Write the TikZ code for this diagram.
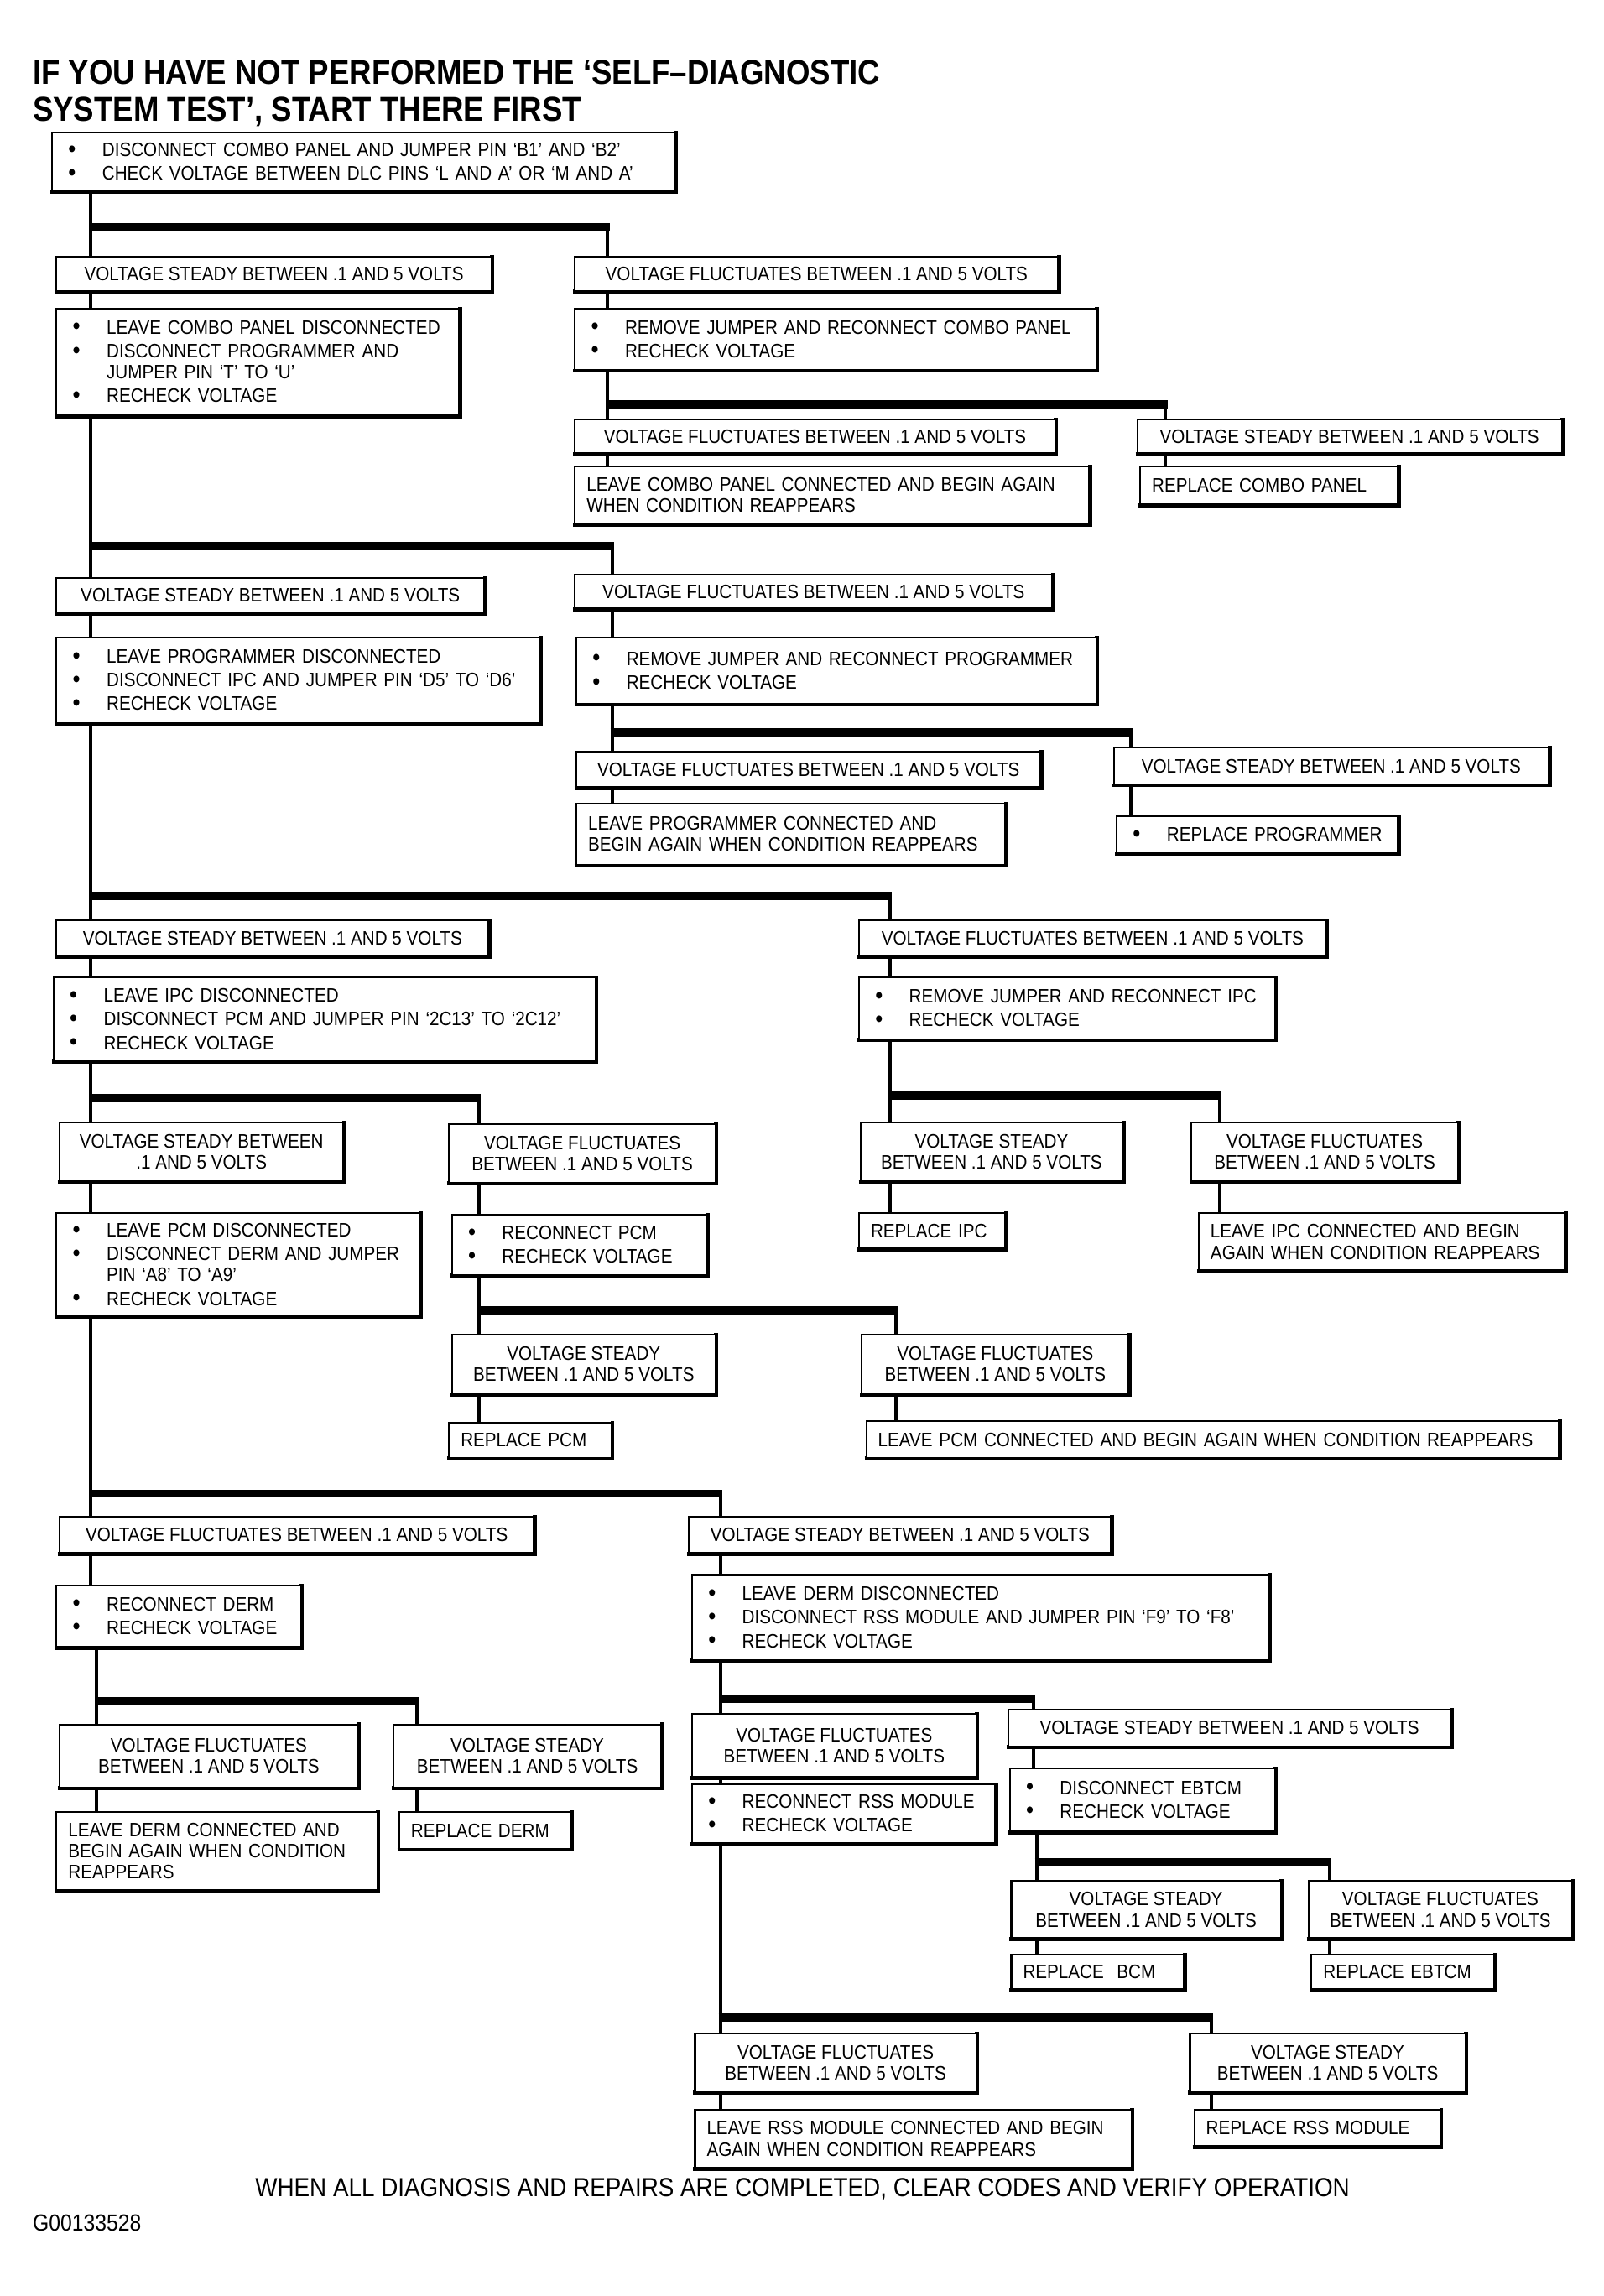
\documentclass[tikz,border=0pt]{standalone}
\usepackage{fontspec}
\newfontfamily\flowfont[FakeStretch=0.89]{Liberation Sans}
\usetikzlibrary{calc,positioning}
\newcommand\pxu{0.01745cm}
\newcommand\boxfont{\flowfont\fontsize{6.6pt}{7.2pt}\selectfont}
\newcommand\headfont{\flowfont\bfseries\fontsize{11.7pt}{12.4pt}\selectfont}
\newlength\bulw
\setlength\bulw{13pt}
\newcommand\itm{\makebox[\bulw][l]{\hspace{1.5pt}\raisebox{-.15pt}{\scalebox{1.25}{\textbullet}}}}
\newcommand\cnt{\hspace*{\bulw}}
\newcommand\nx{\\[.8pt]}
\tikzset{
	flow chart/.style={x=\pxu, y=-\pxu, font=\boxfont},
	box edge/.store in=\boxedge,
	box edge=1.4pt,
	bx/.code 2 args={
		\pgfmathsetlengthmacro{\bxw}{#1*\pxu}
		\pgfmathsetlengthmacro{\bxh}{#2*\pxu}
		\pgfmathsetlengthmacro{\bxt}{#1*\pxu-8pt}
		\pgfkeysalso{draw, line width=.6pt, fill=white, anchor=north west,
			inner xsep=4pt, inner ysep=0pt,
			minimum width=\bxw, minimum height=\bxh,
			prefix after command={\pgfextra{\let\fixname\tikzlastnode}},
			append after command={\pgfextra{\draw[line width=\boxedge]
				([xshift=-.3pt]\fixname.south west) -- (\fixname.south east) -- ([yshift=.3pt]\fixname.north east);}}}
	},
	cond/.style={align=center},
	act/.style={align=left, text width=\bxt},
	wire/.style={line width=1.15pt},
	bar/.style={line width=2.8pt, shorten <=-.6pt, shorten >=-.6pt}
}

\begin{document}
\begin{tikzpicture}[flow chart]
	\useasboundingbox (0,0) rectangle (1095,1568);
	\node[anchor=north west, inner sep=0pt, align=left, font=\headfont] (head) at (22,41)
		{IF YOU HAVE NOT PERFORMED THE ‘SELF–DIAGNOSTIC\\SYSTEM TEST’, START THERE FIRST};
	% combo panel
	\node[bx={425}{40}, act] (a1) at (35,90) {\itm DISCONNECT COMBO PANEL AND JUMPER PIN ‘B1’ AND ‘B2’\nx\itm CHECK VOLTAGE BETWEEN DLC PINS ‘L AND A’ OR ‘M AND A’};
	\node[bx={297}{23}, cond] (b1) at (38,175) {VOLTAGE STEADY BETWEEN .1 AND 5 VOLTS};
	\node[bx={330}{23}, cond] (b2) at (392,175) {VOLTAGE FLUCTUATES BETWEEN .1 AND 5 VOLTS};
	\node[bx={275}{73}, act] (c1) at (38,210) {\itm LEAVE COMBO PANEL DISCONNECTED\nx\itm DISCONNECT PROGRAMMER AND\\\cnt JUMPER PIN ‘T’ TO ‘U’\nx\itm RECHECK VOLTAGE};
	\node[bx={356}{42}, act] (c2) at (392,210) {\itm REMOVE JUMPER AND RECONNECT COMBO PANEL\nx\itm RECHECK VOLTAGE};
	\node[bx={328}{23}, cond] (d1) at (392,286) {VOLTAGE FLUCTUATES BETWEEN .1 AND 5 VOLTS};
	\node[bx={290}{23}, cond] (d2) at (776,286) {VOLTAGE STEADY BETWEEN .1 AND 5 VOLTS};
	\node[bx={351}{39}, act] (e1) at (392,318) {LEAVE COMBO PANEL CONNECTED AND BEGIN AGAIN\\WHEN CONDITION REAPPEARS};
	\node[bx={176}{26}, act] (e2) at (778,318) {REPLACE COMBO PANEL};
	% programmer
	\node[bx={292}{24}, cond] (f1) at (38,394) {VOLTAGE STEADY BETWEEN .1 AND 5 VOLTS};
	\node[bx={326}{23}, cond] (f2) at (392,392) {VOLTAGE FLUCTUATES BETWEEN .1 AND 5 VOLTS};
	\node[bx={330}{58}, act] (g1) at (38,435) {\itm LEAVE PROGRAMMER DISCONNECTED\nx\itm DISCONNECT IPC AND JUMPER PIN ‘D5’ TO ‘D6’\nx\itm RECHECK VOLTAGE};
	\node[bx={355}{45}, act] (g2) at (393,435) {\itm REMOVE JUMPER AND RECONNECT PROGRAMMER\nx\itm RECHECK VOLTAGE};
	\node[bx={317}{24}, cond] (h1) at (393,513) {VOLTAGE FLUCTUATES BETWEEN .1 AND 5 VOLTS};
	\node[bx={297}{25}, cond] (h2) at (760,510) {VOLTAGE STEADY BETWEEN .1 AND 5 VOLTS};
	\node[bx={293}{42}, act] (i1) at (393,548) {LEAVE PROGRAMMER CONNECTED AND\\BEGIN AGAIN WHEN CONDITION REAPPEARS};
	\node[bx={192}{25}, act] (i2) at (762,557) {\itm REPLACE PROGRAMMER};
	% ipc
	\node[bx={295}{24}, cond] (j1) at (38,628) {VOLTAGE STEADY BETWEEN .1 AND 5 VOLTS};
	\node[bx={319}{24}, cond] (j2) at (586,628) {VOLTAGE FLUCTUATES BETWEEN .1 AND 5 VOLTS};
	\node[bx={370}{57}, act] (k1) at (36,667) {\itm LEAVE IPC DISCONNECTED\nx\itm DISCONNECT PCM AND JUMPER PIN ‘2C13’ TO ‘2C12’\nx\itm RECHECK VOLTAGE};
	\node[bx={284}{42}, act] (k2) at (586,667) {\itm REMOVE JUMPER AND RECONNECT IPC\nx\itm RECHECK VOLTAGE};
	\node[bx={179}{40}, cond] (l1) at (587,766) {VOLTAGE STEADY\\BETWEEN .1 AND 5 VOLTS};
	\node[bx={182}{40}, cond] (l2) at (813,766) {VOLTAGE FLUCTUATES\\BETWEEN .1 AND 5 VOLTS};
	\node[bx={100}{24}, act] (m1) at (586,828) {REPLACE IPC};
	\node[bx={250}{39}, act] (m2) at (818,828) {LEAVE IPC CONNECTED AND BEGIN\\AGAIN WHEN CONDITION REAPPEARS};
	% pcm
	\node[bx={194}{40}, cond] (n1) at (40,766) {VOLTAGE STEADY BETWEEN\\.1 AND 5 VOLTS};
	\node[bx={182}{40}, cond] (n2) at (306,767) {VOLTAGE FLUCTUATES\\BETWEEN .1 AND 5 VOLTS};
	\node[bx={248}{70}, act] (o1) at (38,828) {\itm LEAVE PCM DISCONNECTED\nx\itm DISCONNECT DERM AND JUMPER\\\cnt PIN ‘A8’ TO ‘A9’\nx\itm RECHECK VOLTAGE};
	\node[bx={174}{41}, act] (o2) at (308,829) {\itm RECONNECT PCM\nx\itm RECHECK VOLTAGE};
	\node[bx={180}{40}, cond] (p1) at (308,911) {VOLTAGE STEADY\\BETWEEN .1 AND 5 VOLTS};
	\node[bx={182}{40}, cond] (p2) at (588,911) {VOLTAGE FLUCTUATES\\BETWEEN .1 AND 5 VOLTS};
	\node[bx={111}{24}, act] (q1) at (306,971) {REPLACE PCM};
	\node[bx={473}{25}, act] (q2) at (591,970) {LEAVE PCM CONNECTED AND BEGIN AGAIN WHEN CONDITION REAPPEARS};
	% derm
	\node[bx={324}{25}, cond] (r1) at (40,1035) {VOLTAGE FLUCTUATES BETWEEN .1 AND 5 VOLTS};
	\node[bx={288}{25}, cond] (r2) at (470,1035) {VOLTAGE STEADY BETWEEN .1 AND 5 VOLTS};
	\node[bx={167}{42}, act] (t1) at (38,1082) {\itm RECONNECT DERM\nx\itm RECHECK VOLTAGE};
	\node[bx={394}{58}, act] (t2) at (472,1075) {\itm LEAVE DERM DISCONNECTED\nx\itm DISCONNECT RSS MODULE AND JUMPER PIN ‘F9’ TO ‘F8’\nx\itm RECHECK VOLTAGE};
	\node[bx={204}{43}, cond] (u1) at (40,1177) {VOLTAGE FLUCTUATES\\BETWEEN .1 AND 5 VOLTS};
	\node[bx={183}{43}, cond] (u2) at (268,1177) {VOLTAGE STEADY\\BETWEEN .1 AND 5 VOLTS};
	\node[bx={219}{53}, act] (v1) at (38,1237) {LEAVE DERM CONNECTED AND\\BEGIN AGAIN WHEN CONDITION\\REAPPEARS};
	\node[bx={117}{25}, act] (v2) at (272,1237) {REPLACE DERM};
	% rss module / ebtcm
	\node[bx={194}{43}, cond] (w1) at (472,1170) {VOLTAGE FLUCTUATES\\BETWEEN .1 AND 5 VOLTS};
	\node[bx={302}{25}, cond] (w2) at (688,1167) {VOLTAGE STEADY BETWEEN .1 AND 5 VOLTS};
	\node[bx={207}{40}, act] (x1) at (472,1218) {\itm RECONNECT RSS MODULE\nx\itm RECHECK VOLTAGE};
	\node[bx={181}{43}, act] (x2) at (689,1207) {\itm DISCONNECT EBTCM\nx\itm RECHECK VOLTAGE};
	\node[bx={184}{39}, cond] (y1) at (690,1284) {VOLTAGE STEADY\\BETWEEN .1 AND 5 VOLTS};
	\node[bx={180}{39}, cond] (y2) at (893,1284) {VOLTAGE FLUCTUATES\\BETWEEN .1 AND 5 VOLTS};
	\node[bx={118}{24}, act] (z1) at (690,1334) {REPLACE\ \ BCM};
	\node[bx={125}{24}, act] (z2) at (895,1334) {REPLACE EBTCM};
	\node[bx={192}{40}, cond] (ra1) at (474,1388) {VOLTAGE FLUCTUATES\\BETWEEN .1 AND 5 VOLTS};
	\node[bx={188}{40}, cond] (ra2) at (812,1388) {VOLTAGE STEADY\\BETWEEN .1 AND 5 VOLTS};
	\node[bx={298}{40}, act] (rb1) at (474,1440) {LEAVE RSS MODULE CONNECTED AND BEGIN\\AGAIN WHEN CONDITION REAPPEARS};
	\node[bx={168}{25}, act] (rb2) at (815,1440) {REPLACE RSS MODULE};
	\node[font=\flowfont\fontsize{8.9pt}{10pt}\selectfont] (foot) at (548,1495)
		{WHEN ALL DIAGNOSIS AND REPAIRS ARE COMPLETED, CLEAR CODES AND VERIFY OPERATION};
	\node[anchor=west, inner sep=0pt, font=\flowfont\fontsize{7.9pt}{9pt}\selectfont] (fig) at (22,1518) {G00133528};

	% split points
	\coordinate (s1) at (62,155);    \coordinate (s1') at (415,155);
	\coordinate (s2) at (415,276);   \coordinate (s2') at (796,276);
	\coordinate (s3) at (62,373);    \coordinate (s3') at (418,373);
	\coordinate (s4) at (418,500);   \coordinate (s4') at (772,500);
	\coordinate (s5) at (62,612);    \coordinate (s5') at (608,612);
	\coordinate (s6) at (608,748);   \coordinate (s6') at (833,748);
	\coordinate (s7) at (62,750);    \coordinate (s7') at (327,750);
	\coordinate (s8) at (327,895);   \coordinate (s8') at (612,895);
	\coordinate (s9) at (62,1020);   \coordinate (s9') at (492,1020);
	\coordinate (s10) at (66,1162);  \coordinate (s10') at (285,1162);
	\coordinate (s11) at (492,1160); \coordinate (s11') at (706,1160);
	\coordinate (s12) at (708,1272); \coordinate (s12') at (908,1272);
	\coordinate (s13) at (492,1378); \coordinate (s13') at (827,1378);

	\draw[wire] (a1.south -| s1) -- (b1.north -| s1) (b1.south -| s1) -- (c1.north -| s1)
		(s1') -- (b2.north -| s1') (b2.south -| s1') -- (c2.north -| s1');
	\draw[wire] (c2.south -| s2) -- (d1.north -| s2) (d1.south -| s2) -- (e1.north -| s2)
		(s2') -- (d2.north -| s2') (d2.south -| s2') -- (e2.north -| s2');
	\draw[wire] (c1.south -| s3) -- (f1.north -| s3) (f1.south -| s3) -- (g1.north -| s3)
		(s3') -- (f2.north -| s3') (f2.south -| s3') -- (g2.north -| s3');
	\draw[wire] (g2.south -| s4) -- (h1.north -| s4) (h1.south -| s4) -- (i1.north -| s4)
		(s4') -- (h2.north -| s4') (h2.south -| s4') -- (i2.north -| s4');
	\draw[wire] (g1.south -| s5) -- (j1.north -| s5) (j1.south -| s5) -- (k1.north -| s5)
		(s5') -- (j2.north -| s5') (j2.south -| s5') -- (k2.north -| s5');
	\draw[wire] (k2.south -| s6) -- (l1.north -| s6) (l1.south -| s6) -- (m1.north -| s6)
		(s6') -- (l2.north -| s6') (l2.south -| s6') -- (m2.north -| s6');
	\draw[wire] (k1.south -| s7) -- (n1.north -| s7) (n1.south -| s7) -- (o1.north -| s7)
		(s7') -- (n2.north -| s7') (n2.south -| s7') -- (o2.north -| s7');
	\draw[wire] (o2.south -| s8) -- (p1.north -| s8) (p1.south -| s8) -- (q1.north -| s8)
		(s8') -- (p2.north -| s8') (p2.south -| s8') -- (q2.north -| s8');
	\draw[wire] (o1.south -| s9) -- (r1.north -| s9) (r1.south -| s9) -- (t1.north -| s9)
		(s9') -- (r2.north -| s9') (r2.south -| s9') -- (t2.north -| s9');
	\draw[wire] (t1.south -| s10) -- (u1.north -| s10) (u1.south -| s10) -- (v1.north -| s10)
		(s10') -- (u2.north -| s10') (u2.south -| s10') -- (v2.north -| s10');
	\draw[wire] (t2.south -| s11) -- (w1.north -| s11) (w1.south -| s11) -- (x1.north -| s11)
		(s11') -- (w2.north -| s11') (w2.south -| s11') -- (x2.north -| s11');
	\draw[wire] (x2.south -| s12) -- (y1.north -| s12) (y1.south -| s12) -- (z1.north -| s12)
		(s12') -- (y2.north -| s12') (y2.south -| s12') -- (z2.north -| s12');
	\draw[wire] (x1.south -| s13) -- (ra1.north -| s13) (ra1.south -| s13) -- (rb1.north -| s13)
		(s13') -- (ra2.north -| s13') (ra2.south -| s13') -- (rb2.north -| s13');
	\foreach \s in {s1,s2,s3,s4,s5,s6,s7,s8,s9,s10,s11,s12,s13}
		\draw[bar] (\s) -- (\s');
\end{tikzpicture}
\end{document}
